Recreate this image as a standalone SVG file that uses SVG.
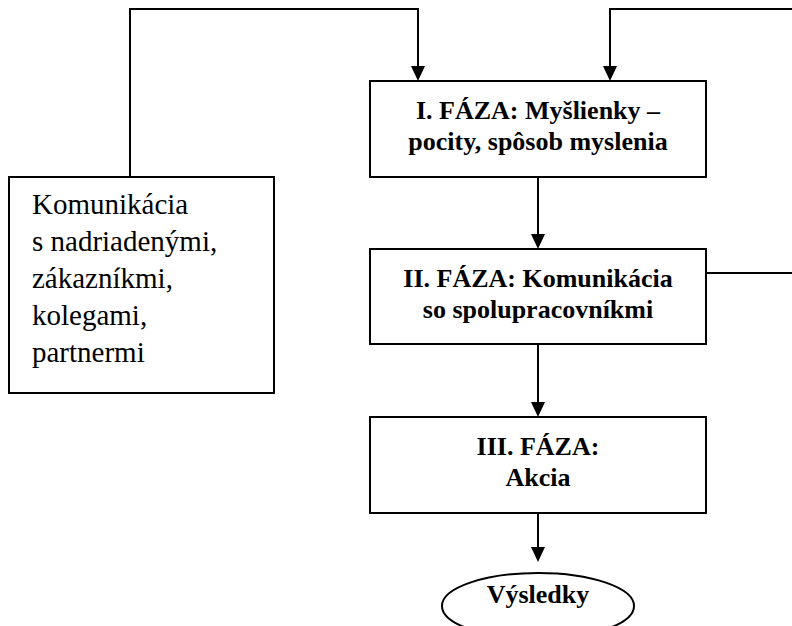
<svg xmlns="http://www.w3.org/2000/svg" width="792" height="626" viewBox="0 0 792 626">
  <defs>
    <style>
      .box { fill: #ffffff; stroke: #000000; stroke-width: 2; }
      .conn { fill: none; stroke: #000000; stroke-width: 2; }
      .head { fill: #000000; }
      .bold { font-weight: bold; font-size: 26px; fill: #000000; text-anchor: middle; }
      .reg { font-size: 29px; fill: #000000; }
    </style>
  </defs>
  <rect width="792" height="626" fill="#ffffff"/>

  <g id="connectors">
    <path class="conn" d="M130,177 V9 H418 V70"/>
    <path class="conn" d="M706,273 H800 V9 H610 V70"/>
    <path class="conn" d="M538,177 V238"/>
    <path class="conn" d="M538,344 V406"/>
    <path class="conn" d="M538,513 V552"/>
    <path class="head" d="M411,66 L425,66 L418,81 Z"/>
    <path class="head" d="M603,66 L617,66 L610,81 Z"/>
    <path class="head" d="M531,234 L545,234 L538,249 Z"/>
    <path class="head" d="M531,402 L545,402 L538,417 Z"/>
    <path class="head" d="M531,547 L545,547 L538,562 Z"/>
  </g>

  <g id="node-communication" font-family="'Liberation Serif', 'DejaVu Serif', serif">
    <rect class="box" x="9" y="177" width="265" height="216"/>
    <text class="reg" x="32" y="214">Komunikácia</text>
    <text class="reg" x="32" y="251">s nadriadenými,</text>
    <text class="reg" x="32" y="288">zákazníkmi,</text>
    <text class="reg" x="32" y="325">kolegami,</text>
    <text class="reg" x="32" y="362">partnermi</text>
  </g>

  <g id="node-phase1" font-family="'Liberation Serif', 'DejaVu Serif', serif">
    <rect class="box" x="370" y="81" width="336" height="96"/>
    <text class="bold" x="538" y="119">I. FÁZA: Myšlienky –</text>
    <text class="bold" x="538" y="150">pocity, spôsob myslenia</text>
  </g>

  <g id="node-phase2" font-family="'Liberation Serif', 'DejaVu Serif', serif">
    <rect class="box" x="370" y="249" width="336" height="95"/>
    <text class="bold" x="538" y="287">II. FÁZA: Komunikácia</text>
    <text class="bold" x="538" y="318">so spolupracovníkmi</text>
  </g>

  <g id="node-phase3" font-family="'Liberation Serif', 'DejaVu Serif', serif">
    <rect class="box" x="370" y="417" width="336" height="96"/>
    <text class="bold" x="538" y="455">III. FÁZA:</text>
    <text class="bold" x="538" y="486">Akcia</text>
  </g>

  <g id="node-results" font-family="'Liberation Serif', 'DejaVu Serif', serif">
    <ellipse class="box" cx="538" cy="606" rx="96" ry="33"/>
    <text class="bold" x="538" y="603">Výsledky</text>
  </g>
</svg>
